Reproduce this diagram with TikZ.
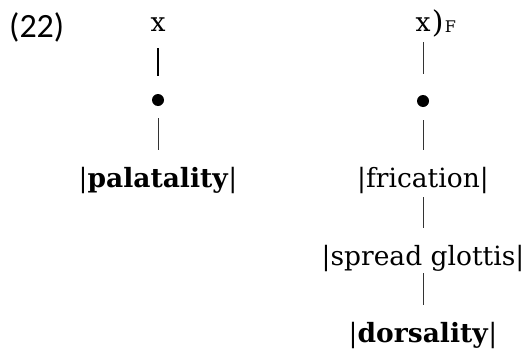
\documentclass[tikz,border=0pt]{standalone}
\usepackage{fontspec}
\setmainfont{DejaVu Serif}
\newfontfamily\numfont{Carlito}
\begin{document}
\begin{tikzpicture}[x=1pt,y=-1pt,
  lab/.style={inner sep=0pt, font=\fontsize{26.5}{30}\selectfont},
  conn/.style={line width=1pt, black!80},
  dotn/.style={circle, fill=black, inner sep=0pt, minimum size=12pt}]
\useasboundingbox (0,0) rectangle (527,351);
\node[anchor=west, inner sep=0pt, font=\numfont\fontsize{34}{38}\selectfont] (num) at (9,27) {(22)};
% left column
\node[lab] (lx) at (158,25) {x};
\node[dotn] (ld) at (158,100) {};
\node[lab] (lp) at (158,180) {|\textbf{palatality}|};
\coordinate (l1a) at (158,48); \coordinate (l1b) at (158,76);
\draw[line width=1.8pt] (l1a) -- (l1b);
\coordinate (l2a) at (158,118); \coordinate (l2b) at (158,150);
\draw[conn] (l2a) -- (l2b);
% right column
\node[lab] (rx) at (423,25) {x};
\node[anchor=west, inner sep=0pt, font=\fontsize{30}{34}\selectfont] (rp) at ([xshift=1pt,yshift=2pt]rx.east) {)};
\node[anchor=west, inner sep=0pt, font=\fontsize{16}{18}\selectfont] (rf) at ([xshift=1pt,yshift=-4pt]rp.east) {F};
\node[dotn] (rd) at (423,101) {};
\node[lab] (rfr) at (423,180) {|frication|};
\node[lab] (rsg) at (423,258) {|spread glottis|};
\node[lab] (rdo) at (423,335) {|\textbf{dorsality}|};
\coordinate (r1a) at (423,42); \coordinate (r1b) at (423,74);
\draw[conn] (r1a) -- (r1b);
\coordinate (r2a) at (423,120); \coordinate (r2b) at (423,150);
\draw[conn] (r2a) -- (r2b);
\coordinate (r3a) at (423,197); \coordinate (r3b) at (423,228);
\draw[conn] (r3a) -- (r3b);
\coordinate (r4a) at (423,273); \coordinate (r4b) at (423,305);
\draw[conn] (r4a) -- (r4b);
\end{tikzpicture}
\end{document}
